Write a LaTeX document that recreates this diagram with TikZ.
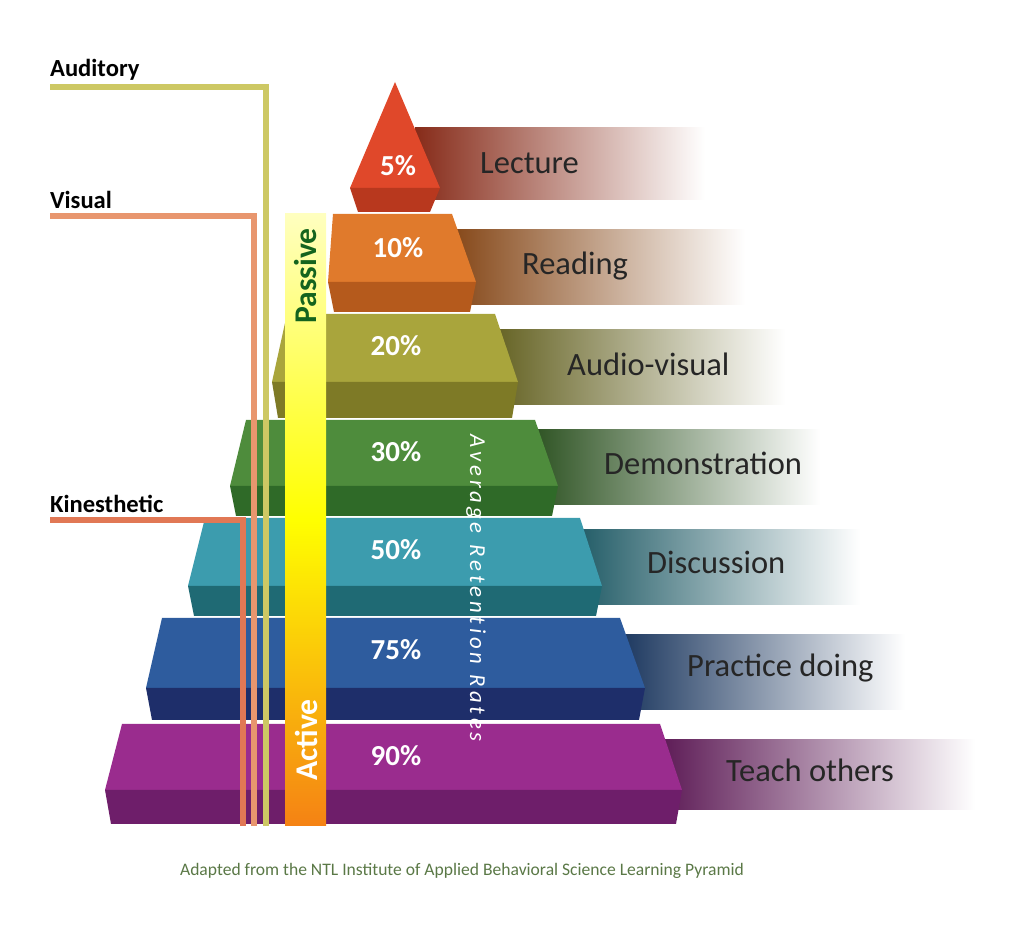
\documentclass[tikz,border=0pt]{standalone}
\usepackage{fontspec}
\setmainfont{Carlito}
\begin{document}
\begin{tikzpicture}[x=0.02cm,y=-0.02cm,
  lab/.style={font=\fontsize{18.5}{20}\selectfont, text=black!85, anchor=west},
  pct/.style={font=\bfseries\fontsize{16.5}{18}\selectfont, text=white},
  side/.style={font=\bfseries\fontsize{14}{16}\selectfont, anchor=south west, inner sep=1pt}]
\useasboundingbox (0,0) rectangle (1036,928);
\definecolor{cA}{HTML}{E0482A}\definecolor{cAd}{HTML}{B8381E}
\definecolor{cB}{HTML}{E07A2C}\definecolor{cBd}{HTML}{B55A1C}
\definecolor{cC}{HTML}{A9A53C}\definecolor{cCd}{HTML}{7E7A26}
\definecolor{cD}{HTML}{4E8C3C}\definecolor{cDd}{HTML}{2F6A28}
\definecolor{cE}{HTML}{3C9CAE}\definecolor{cEd}{HTML}{1F6A74}
\definecolor{cF}{HTML}{2E5C9E}\definecolor{cFd}{HTML}{1E2E6A}
\definecolor{cG}{HTML}{9A2C8E}\definecolor{cGd}{HTML}{6E1E6A}
% fade bands
\newcommand\band[5]{\shade[left color=#5!60!black,right color=white,shading angle=90] (#1,#3) rectangle (#2,#4);}
\band{415}{705}{128}{200}{cA}
\band{455}{745}{230}{305}{cB}
\band{495}{785}{330}{405}{cC}
\band{535}{820}{430}{505}{cD}
\band{580}{860}{530}{605}{cE}
\band{620}{905}{635}{710}{cF}
\band{660}{975}{740}{810}{cG}
% layers
\newcommand\layer[9]{%
 \fill[#8] (#4,#1)--(#5,#1)--(#7,#2)--(#6,#2)--cycle;
 \fill[#9] (#6,#2)--(#7,#2)--(#7-6,#3)--(#6+6,#3)--cycle;}
\fill[cA] (395,82)--(440,188)--(350,188)--cycle;
\fill[cAd] (350,188)--(440,188)--(430,212)--(358,212)--cycle;
\layer{214}{282}{312}{333}{452}{328}{476}{cB}{cBd}
\layer{314}{382}{418}{287}{495}{272}{518}{cC}{cCd}
\layer{420}{486}{516}{246}{535}{230}{558}{cD}{cDd}
\layer{518}{586}{616}{205}{580}{188}{602}{cE}{cEd}
\layer{618}{688}{720}{162}{620}{146}{645}{cF}{cFd}
\layer{724}{790}{824}{122}{660}{105}{682}{cG}{cGd}
% labels
\node[lab] (l1) at (474,163) {Lecture};
\node[lab] (l2) at (516,266) {Reading};
\node[lab] (l3) at (561,364) {Audio-visual};
\node[lab] (l4) at (598,463) {Demonstration};
\node[lab] (l5) at (641,562) {Discussion};
\node[lab] (l6) at (681,668) {Practice doing};
\node[lab] (l7) at (720,770) {Teach others};
\node[pct] (p1) at (398,166) {5\%};
\node[pct] (p2) at (398,248) {10\%};
\node[pct] (p3) at (396,346) {20\%};
\node[pct] (p4) at (396,452) {30\%};
\node[pct] (p5) at (396,550) {50\%};
\node[pct] (p6) at (396,650) {75\%};
\node[pct] (p7) at (396,756) {90\%};
% side lines
\draw[line width=3.2pt, color={rgb,255:red,205;green,200;blue,100}] (50,87)--(266,87)--(266,826);
\draw[line width=3.2pt, color={rgb,255:red,232;green,150;blue,110}] (50,216)--(254,216)--(254,826);
\draw[line width=3.2pt, color={rgb,255:red,225;green,120;blue,85}] (50,520)--(243,520)--(243,826);
\node[side] (au) at (48,82) {Auditory};
\node[side] (vi) at (48,211) {Visual};
\node[side] (ki) at (48,515) {Kinesthetic};
% gradient bar
\shade[top color=yellow!25, bottom color={rgb,255:red,245;green,130;blue,20}, middle color=yellow] (285,214) rectangle (326,826);
\node[rotate=90, font=\bfseries\fontsize{18}{20}\selectfont, text={rgb,255:red,20;green,100;blue,30}] (pas) at (306,276) {Passive};
\node[rotate=90, font=\bfseries\fontsize{18}{20}\selectfont, text=white] (act) at (306,740) {Active};
\node[rotate=-90, font=\itshape\fontsize{13}{15}\selectfont, text=white] (arr) at (476,588) {A\,v\,e\,r\,a\,g\,e\ \ R\,e\,t\,e\,n\,t\,i\,o\,n\ \ R\,a\,t\,e\,s};
\node[font=\fontsize{10}{12}\selectfont, text={rgb,255:red,90;green,120;blue,70}] (cap) at (462,871) {Adapted from the NTL Institute of Applied Behavioral Science Learning Pyramid};
\end{tikzpicture}
\end{document}
